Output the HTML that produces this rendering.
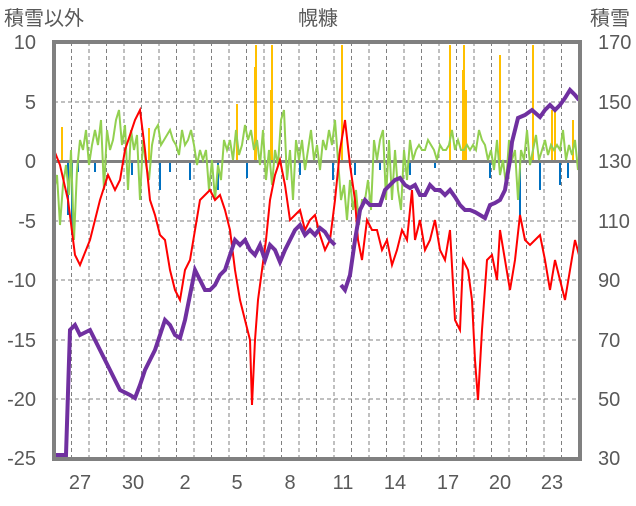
<!DOCTYPE html><html><head><meta charset="utf-8"><style>
body{margin:0;background:#fff;width:636px;height:501px;overflow:hidden}
text{font-family:"Liberation Sans","Noto Sans CJK JP",sans-serif;fill:#595959;font-size:20px}
</style></head><body>
<svg width="636" height="501" xmlns="http://www.w3.org/2000/svg">
<g stroke="#808080" stroke-width="1" stroke-dasharray="4,3">
<line x1="54" y1="102" x2="580" y2="102"/><line x1="54" y1="221" x2="580" y2="221"/><line x1="54" y1="280" x2="580" y2="280"/><line x1="54" y1="340" x2="580" y2="340"/><line x1="54" y1="399" x2="580" y2="399"/>
<line x1="71.5" y1="42" x2="71.5" y2="459"/><line x1="89" y1="42" x2="89" y2="459"/><line x1="106.5" y1="42" x2="106.5" y2="459"/><line x1="124" y1="42" x2="124" y2="459"/><line x1="141.5" y1="42" x2="141.5" y2="459"/><line x1="159" y1="42" x2="159" y2="459"/><line x1="176.5" y1="42" x2="176.5" y2="459"/><line x1="194" y1="42" x2="194" y2="459"/><line x1="211.5" y1="42" x2="211.5" y2="459"/><line x1="229" y1="42" x2="229" y2="459"/><line x1="246.5" y1="42" x2="246.5" y2="459"/><line x1="264" y1="42" x2="264" y2="459"/><line x1="281.5" y1="42" x2="281.5" y2="459"/><line x1="299" y1="42" x2="299" y2="459"/><line x1="316.5" y1="42" x2="316.5" y2="459"/><line x1="334" y1="42" x2="334" y2="459"/><line x1="351.5" y1="42" x2="351.5" y2="459"/><line x1="369" y1="42" x2="369" y2="459"/><line x1="386.5" y1="42" x2="386.5" y2="459"/><line x1="404" y1="42" x2="404" y2="459"/><line x1="421.5" y1="42" x2="421.5" y2="459"/><line x1="439" y1="42" x2="439" y2="459"/><line x1="456.5" y1="42" x2="456.5" y2="459"/><line x1="474" y1="42" x2="474" y2="459"/><line x1="491.5" y1="42" x2="491.5" y2="459"/><line x1="509" y1="42" x2="509" y2="459"/><line x1="526.5" y1="42" x2="526.5" y2="459"/><line x1="544" y1="42" x2="544" y2="459"/><line x1="561.5" y1="42" x2="561.5" y2="459"/>
</g>
<g stroke="#ffc000" stroke-width="2">
<line x1="62" y1="161" x2="62" y2="127"/><line x1="149" y1="161" x2="149" y2="128"/><line x1="237" y1="161" x2="237" y2="104"/><line x1="255" y1="161" x2="255" y2="67"/><line x1="256" y1="161" x2="256" y2="45"/><line x1="271" y1="161" x2="271" y2="90"/><line x1="272" y1="161" x2="272" y2="45"/><line x1="290" y1="161" x2="290" y2="150"/><line x1="342" y1="161" x2="342" y2="45"/><line x1="450" y1="161" x2="450" y2="45"/><line x1="463" y1="161" x2="463" y2="70"/><line x1="464" y1="161" x2="464" y2="45"/><line x1="466" y1="161" x2="466" y2="90"/><line x1="500" y1="161" x2="500" y2="55"/><line x1="533" y1="161" x2="533" y2="45"/><line x1="552" y1="161" x2="552" y2="110"/><line x1="555" y1="161" x2="555" y2="110"/><line x1="573" y1="161" x2="573" y2="120"/>
</g>
<g stroke="#0070c0" stroke-width="2">
<line x1="68" y1="161" x2="68" y2="215"/><line x1="72" y1="161" x2="72" y2="235"/><line x1="78" y1="161" x2="78" y2="172"/><line x1="95" y1="161" x2="95" y2="172"/><line x1="132" y1="161" x2="132" y2="175"/><line x1="160" y1="161" x2="160" y2="190"/><line x1="170" y1="161" x2="170" y2="172"/><line x1="190" y1="161" x2="190" y2="180"/><line x1="218" y1="161" x2="218" y2="190"/><line x1="247" y1="161" x2="247" y2="178"/><line x1="300" y1="161" x2="300" y2="175"/><line x1="333" y1="161" x2="333" y2="180"/><line x1="355" y1="161" x2="355" y2="175"/><line x1="380" y1="161" x2="380" y2="170"/><line x1="410" y1="161" x2="410" y2="175"/><line x1="435" y1="161" x2="435" y2="168"/><line x1="490" y1="161" x2="490" y2="178"/><line x1="520" y1="161" x2="520" y2="215"/><line x1="540" y1="161" x2="540" y2="190"/><line x1="560" y1="161" x2="560" y2="185"/><line x1="568" y1="161" x2="568" y2="178"/>
</g>
<line x1="54" y1="161.5" x2="580" y2="161.5" stroke="#808080" stroke-width="3"/>
<polyline fill="none" stroke="#92d050" stroke-width="2" points="54,190 57,175 60,225 63,185 66,165 69,195 71,150 74,240 77,170 80,140 83,150 86,130 89,165 92,145 95,130 98,145 101,120 104,190 107,130 110,150 113,140 116,120 119,110 122,145 125,125 128,190 131,130 134,150 137,135 140,200 143,140 146,165 149,180 152,145 155,130 158,125 161,145 164,140 167,135 170,130 173,140 176,145 179,155 182,130 185,145 188,140 191,130 194,145 197,165 200,150 203,160 206,150 209,190 212,160 215,200 218,165 221,180 224,140 227,150 230,140 233,160 236,130 239,155 242,145 245,125 248,140 251,130 254,150 257,140 260,165 263,130 266,180 269,150 272,185 275,150 278,165 281,120 284,110 287,180 290,150 293,200 296,140 299,160 302,140 305,170 308,150 311,130 314,160 317,145 320,170 323,140 326,150 329,130 332,145 335,120 338,160 341,200 344,185 347,220 350,180 353,210 356,190 359,225 362,200 365,200 368,180 371,210 374,140 377,160 380,140 383,130 386,200 389,140 392,200 395,150 398,190 401,210 404,150 407,180 410,140 413,160 416,150 419,145 422,150 425,150 428,140 431,145 434,150 437,160 440,145 443,150 446,150 449,145 452,130 455,150 458,140 461,150 464,150 467,145 470,150 473,145 476,150 479,130 482,140 485,145 488,160 491,150 494,170 497,140 500,175 503,160 506,185 509,140 512,160 515,150 518,200 521,150 524,160 527,130 530,165 533,150 536,135 539,160 542,150 545,140 548,155 551,145 554,150 557,145 560,150 563,130 566,160 569,145 572,155 575,140 578,170"/>
<polyline fill="none" stroke="#ff0000" stroke-width="2" points="54,150 60,165 68,200 75,255 80,265 90,240 100,200 108,175 115,190 120,180 125,150 130,135 135,120 140,110 145,150 150,200 155,215 160,235 165,240 170,270 175,290 180,300 185,270 190,260 195,230 200,200 205,195 210,190 215,200 220,195 225,210 230,230 235,270 240,300 245,320 250,340 252,405 255,340 258,300 262,270 266,240 270,200 275,175 280,160 285,185 290,220 295,215 300,210 305,230 310,220 315,215 320,235 325,250 330,240 335,200 340,150 345,120 350,165 355,200 358,240 362,260 367,220 372,230 377,230 382,250 387,240 392,265 397,250 402,230 407,240 412,190 415,240 420,220 425,250 430,240 435,220 440,250 445,260 450,230 455,320 460,330 463,260 468,270 472,300 475,360 478,400 482,330 487,260 492,255 497,280 500,230 505,260 510,290 515,260 520,215 525,240 530,245 535,240 540,235 545,260 550,290 555,260 560,280 565,300 570,270 575,240 579,255"/>
<polyline fill="none" stroke="#7030a0" stroke-width="4" points="54,455 66,455 70,330 75,325 80,335 90,330 95,340 100,350 110,370 120,390 130,395 135,398 140,385 145,370 150,360 155,350 160,335 165,320 170,325 175,335 180,338 185,320 190,295 195,270 200,280 205,290 210,290 215,285 220,275 225,270 230,255 235,240 240,245 245,240 250,250 255,255 260,245 265,260 270,245 275,250 280,262 285,250 290,240 295,230 300,225 305,235 310,230 315,235 320,228 325,232 330,240 335,245"/>
<polyline fill="none" stroke="#7030a0" stroke-width="4" points="341,285 345,290 350,275 355,240 360,210 365,200 370,205 380,205 385,190 390,185 395,180 400,178 405,185 410,188 415,185 420,195 425,195 430,185 435,190 440,190 445,195 450,190 455,197 460,205 465,210 470,210 475,212 480,215 485,218 490,205 495,203 500,200 505,190 510,160 512,142 518,118 525,115 532,110 540,117 545,110 550,105 555,110 560,105 565,98 570,90 575,95 579,100"/>
<rect x="54" y="42" width="526" height="417" fill="none" stroke="#808080" stroke-width="4"/>
<g text-anchor="end"><text x="36" y="49">10</text><text x="36" y="109">5</text><text x="36" y="168">0</text><text x="36" y="228">-5</text><text x="36" y="287">-10</text><text x="36" y="347">-15</text><text x="36" y="406">-20</text><text x="36" y="465">-25</text></g>
<g text-anchor="start"><text x="598" y="49">170</text><text x="598" y="109">150</text><text x="598" y="168">130</text><text x="598" y="228">110</text><text x="598" y="287">90</text><text x="598" y="347">70</text><text x="598" y="406">50</text><text x="598" y="465">30</text></g>
<g text-anchor="middle"><text x="80" y="489">27</text><text x="133" y="489">30</text><text x="185" y="489">2</text><text x="237" y="489">5</text><text x="290" y="489">8</text><text x="343" y="489">11</text><text x="395" y="489">14</text><text x="448" y="489">17</text><text x="500" y="489">20</text><text x="552" y="489">23</text></g>
<text x="4" y="25">積雪以外</text><text x="318" y="25" text-anchor="middle">幌糠</text><text x="590" y="25">積雪</text>
</svg></body></html>
